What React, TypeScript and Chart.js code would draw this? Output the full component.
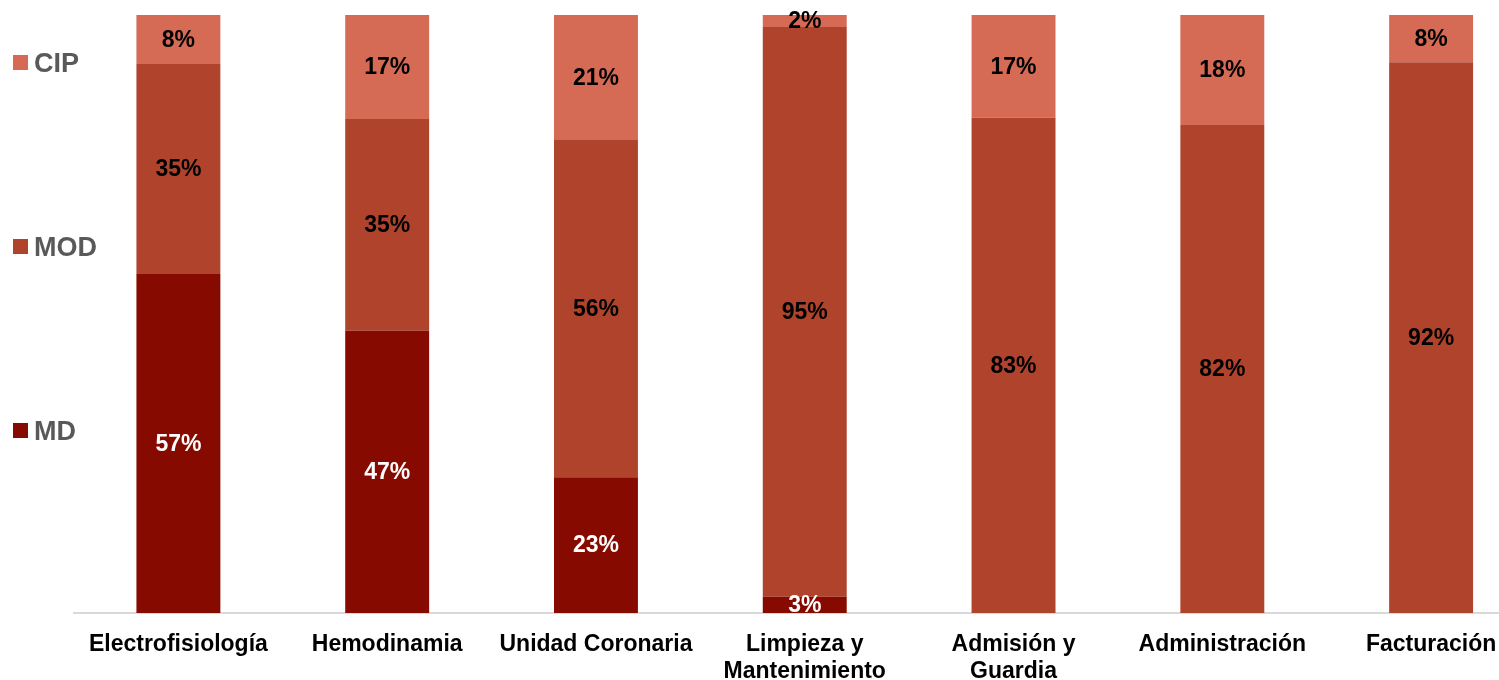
import React, { useEffect, useRef } from "react";
import { Chart, registerables } from "chart.js";

Chart.register(...registerables);

const categories: (string | string[])[] = [
  "Electrofisiología",
  "Hemodinamia",
  "Unidad Coronaria",
  ["Limpieza y", "Mantenimiento"],
  ["Admisión y", "Guardia"],
  "Administración",
  "Facturación",
];

const mdValues = [56.7, 47.2, 22.7, 2.7, 0, 0, 0];
const modValues = [35.1, 35.4, 56.4, 95.3, 82.8, 81.6, 92.1];
const cipValues = [8.2, 17.4, 20.9, 2.0, 17.2, 18.4, 7.9];

const seriesNames = ["MD", "MOD", "CIP"];
const seriesColors = ["#870A00", "#B0432C", "#D56A55"];
const labelColors = ["#FFFFFF", "#000000", "#000000"];

const FONT = "'Liberation Sans', Arial, Helvetica, sans-serif";

const dataLabelPlugin = {
  id: "segLabels",
  afterDatasetsDraw(chart: any) {
    const ctx = chart.ctx;
    ctx.save();
    ctx.font = `bold 23px ${FONT}`;
    ctx.textAlign = "center";
    ctx.textBaseline = "middle";
    chart.data.datasets.forEach((ds: any, di: number) => {
      const meta = chart.getDatasetMeta(di);
      meta.data.forEach((el: any, i: number) => {
        const v = ds.data[i];
        if (!v) return;
        const y = (el.y + el.base) / 2 + 1;
        ctx.fillStyle = labelColors[di];
        ctx.fillText(`${Math.round(v)}%`, el.x, y);
      });
    });
    ctx.restore();
  },
};

export default function App() {
  const ref = useRef<HTMLCanvasElement | null>(null);

  useEffect(() => {
    if (!ref.current) return;
    const seriesData = [mdValues, modValues, cipValues];
    const chart = new Chart(ref.current, {
      type: "bar",
      data: {
        labels: categories,
        datasets: seriesNames.map((name, i) => ({
          label: name,
          data: seriesData[i],
          backgroundColor: seriesColors[i],
          borderWidth: 0,
          barPercentage: 0.402,
          categoryPercentage: 1,
        })),
      },
      options: {
        responsive: false,
        animation: false,
        devicePixelRatio: 1,
        layout: { padding: { top: 15, left: 74, right: 4.5, bottom: 0 } },
        plugins: {
          legend: { display: false },
          tooltip: { enabled: false },
        },
        scales: {
          x: {
            stacked: true,
            grid: { display: false, drawTicks: false },
            border: { display: true, color: "#D9D9D9", width: 2 },
            ticks: {
              color: "#000000",
              padding: 18,
              maxRotation: 0,
              autoSkip: false,
              font: { family: FONT, size: 23, weight: "bold", lineHeight: 1.17 },
            },
            afterFit(scale: any) {
              scale.height = 67;
            },
          },
          y: {
            stacked: true,
            display: false,
            min: 0,
            max: 100,
          },
        },
      },
      plugins: [dataLabelPlugin],
    });
    return () => chart.destroy();
  }, []);

  const legendItems = [
    { name: "CIP", color: seriesColors[2], top: 55 },
    { name: "MOD", color: seriesColors[1], top: 239 },
    { name: "MD", color: seriesColors[0], top: 423 },
  ];

  return (
    <div
      style={{
        position: "absolute",
        left: 0,
        top: 0,
        width: 1499,
        height: 680,
        overflow: "hidden",
        background: "#FFFFFF",
      }}
    >
      <canvas ref={ref} width={1540} height={680} style={{ display: "block" }} />
      {legendItems.map((it) => (
        <div key={it.name}>
          <div
            style={{
              position: "absolute",
              left: 13,
              top: it.top,
              width: 15,
              height: 15,
              background: it.color,
            }}
          />
          <div
            style={{
              position: "absolute",
              left: 34,
              top: it.top - 8,
              height: 32,
              lineHeight: "32px",
              fontFamily: FONT,
              fontWeight: "bold",
              fontSize: 27,
              color: "#595959",
            }}
          >
            {it.name}
          </div>
        </div>
      ))}
    </div>
  );
}
